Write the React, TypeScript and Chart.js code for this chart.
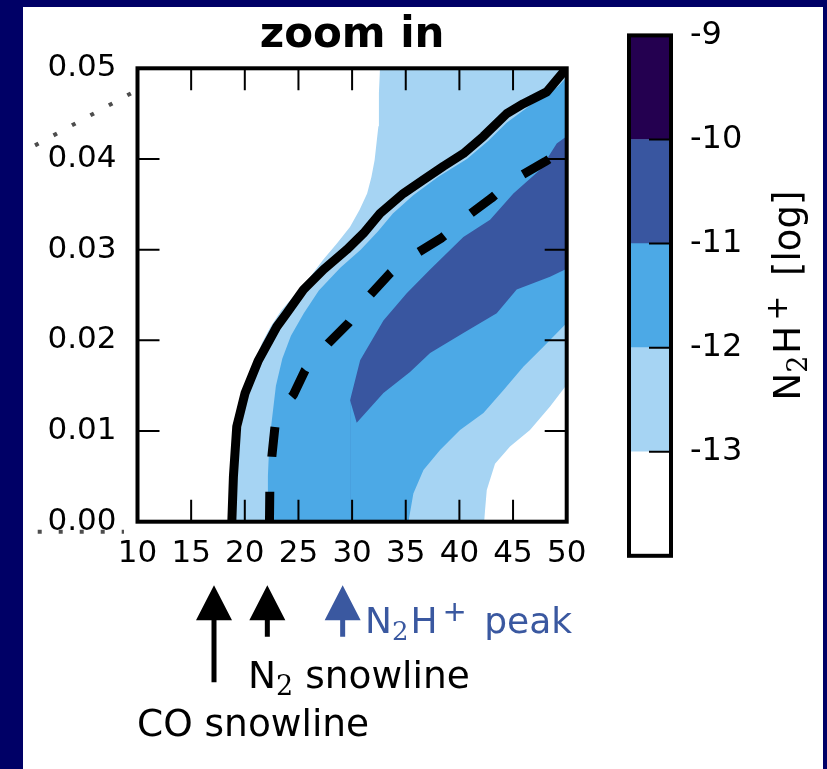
import React, { useEffect, useRef } from 'react';
import { Chart, registerables } from 'chart.js';
Chart.register(...registerables);

const SANS = "'DejaVu Sans', sans-serif";
const SERIF = "'DejaVu Serif', serif";
const NAVY = '#000066';

// ---------- axes ----------
const xTicks = [10, 15, 20, 25, 30, 35, 40, 45, 50];
const yTicks = [0, 0.01, 0.02, 0.03, 0.04, 0.05];
const xRange = [10, 50];
const yRange = [0, 0.05];

// ---------- colour bar ----------
const levelTicks = [-9, -10, -11, -12, -13];
const levelLow = [-14, -13, -12, -11, -10];
const levelHigh = [-13, -12, -11, -10, -9];
const levelColors = ['#ffffff', '#a6d4f3', '#4ca9e6', '#3956a0', '#240050'];

// ---------- contour boundaries ----------
// white -> light blue (upper-left edge)
const lightEdgeX = [19.1, 19.25, 19.6, 20.2, 21.0, 21.6, 22.4, 23.4, 24.8, 26.1, 27.3, 28.6, 29.8, 30.7, 31.4, 31.8, 32.1, 32.45, 32.5, 32.6, 50];
const lightEdgeY = [0, 0.006, 0.01, 0.0142, 0.0178, 0.0197, 0.0215, 0.0233, 0.0252, 0.027, 0.0289, 0.0307, 0.0325, 0.0344, 0.0362, 0.038, 0.0399, 0.0436, 0.0473, 0.05, 0.05];
// light -> medium blue
const mediumEdgeX = [22.1, 22.15, 22.3, 22.6, 22.9, 23.5, 24.3, 25.5, 26.9, 28.9, 30.8, 32.4, 33.8, 35.7, 38.0, 40.7, 42.7, 44.4, 46.7, 49.2, 50];
const mediumEdgeY = [0, 0.005, 0.009, 0.012, 0.015, 0.018, 0.0205, 0.023, 0.0255, 0.028, 0.03, 0.032, 0.034, 0.036, 0.038, 0.04, 0.042, 0.044, 0.046, 0.048, 0.049];
// dark blue region (upper and lower edges)
const darkUpperX = [29.81, 30.75, 32.92, 35.09, 37.27, 40.37, 42.86, 45.03, 47.52, 49.07, 50];
const darkUpperY = [0.0134, 0.0178, 0.0222, 0.0252, 0.0278, 0.0314, 0.0333, 0.0362, 0.0388, 0.0417, 0.0425];
const darkLowerX = [29.81, 30.43, 32.92, 35.4, 37.27, 40.37, 43.48, 45.34, 48.45, 50];
const darkLowerY = [0.0134, 0.0109, 0.0142, 0.0165, 0.0186, 0.0208, 0.023, 0.0256, 0.027, 0.0279];
// medium -> light blue (lower-right)
const lowLightX = [35.25, 35.71, 36.65, 38.2, 40.06, 42.24, 44.1, 45.96, 47.83, 50];
const lowLightY = [0, 0.0031, 0.0057, 0.0079, 0.0101, 0.012, 0.0145, 0.0171, 0.0193, 0.0219];
// light -> white (lower-right corner)
const lowWhiteX = [42.3, 42.55, 43.32, 44.72, 46.58, 48.45, 50];
const lowWhiteY = [0, 0.0035, 0.0064, 0.0083, 0.0101, 0.0127, 0.0151];
// CO snowline (solid) and N2 snowline (dashed)
const solidX = [18.79, 18.94, 19.25, 20.03, 21.27, 22.98, 23.91, 25.47, 27.33, 29.5, 31.06, 32.61, 34.78, 36.65, 38.51, 40.37, 42.24, 44.41, 45.96, 48.14, 49.84, 50.1];
const solidY = [0, 0.005, 0.0105, 0.0142, 0.0178, 0.0215, 0.023, 0.0256, 0.0278, 0.03, 0.0318, 0.034, 0.0362, 0.0377, 0.0392, 0.0406, 0.0425, 0.045, 0.0461, 0.0474, 0.0498, 0.0501];
const dashedX = [22.3, 22.33, 22.52, 22.83, 23.6, 24.53, 25.62, 26.71, 27.8, 29.66, 30.75, 31.68, 33.54, 34.78, 36.02, 38.35, 39.6, 40.84, 43.01, 44.1, 45.34, 47.98, 50];
const dashedY = [0, 0.0035, 0.0072, 0.0107, 0.0127, 0.014, 0.0167, 0.0182, 0.0197, 0.0219, 0.0235, 0.025, 0.0274, 0.0287, 0.0296, 0.0313, 0.0325, 0.0338, 0.0357, 0.0368, 0.0379, 0.0397, 0.0412];

// ---------- zoom connectors (dotted, outside the frame) ----------
const connTopX = [0.45, 9.49];
const connTopY = [0.0415, 0.0473];
const connBotX = [0.7, 8.74];
const connBotY = [-0.0011, -0.0011];

// ---------- annotations below the axis ----------
const arrowX = [17.13, 22.1, 29.12];
const arrowTipY = [-0.007, -0.007, -0.007];
const arrowTailY = [-0.0177, -0.0127, -0.0127];
const arrowColors = ['#000000', '#000000', '#3a58a0'];
type Piece = { t: string; kind?: 'sub' | 'sup'; gap?: number };
const labelTexts: Piece[][] = [
  [{ t: 'CO snowline' }],
  [{ t: 'N' }, { t: '2', kind: 'sub' }, { t: ' snowline' }],
  [{ t: 'N' }, { t: '2', kind: 'sub' }, { t: 'H', gap: 2 }, { t: '+', kind: 'sup', gap: 5 }, { t: ' peak', gap: 6 }],
];
const labelX = [9.95, 20.3, 31.2];
const labelY = [-0.0236, -0.0183, -0.0123];
const labelSizes = [37.5, 37.5, 36];
const labelColors = ['#000000', '#000000', '#3a58a0'];
const titleText = 'zoom in';
const cbarLabel: Piece[] = [{ t: 'N' }, { t: '2', kind: 'sub' }, { t: 'H', gap: 2 }, { t: '+', kind: 'sup', gap: 5 }, { t: ' [log]', gap: 8 }];

const pts = (xs: number[], ys: number[]) => xs.map((x, i) => ({ x, y: ys[i] }));

function drawPieces(ctx: CanvasRenderingContext2D, pieces: Piece[], x: number, y: number, size: number, draw = true) {
  let cx = x;
  for (const p of pieces) {
    cx += p.gap || 0;
    let dy = 0;
    if (p.kind === 'sub') {
      ctx.font = `${Math.round(size * 0.72)}px ${SERIF}`;
      dy = size * 0.2;
    } else if (p.kind === 'sup') {
      ctx.font = `${Math.round(size * 0.8)}px ${SANS}`;
      dy = -size * 0.34;
    } else {
      ctx.font = `${size}px ${SANS}`;
    }
    if (draw) ctx.fillText(p.t, cx, y + dy);
    cx += ctx.measureText(p.t).width;
  }
  return cx - x;
}

const mainDecor = {
  id: 'mainDecor',
  afterDraw(chart: any) {
    const { ctx, chartArea: a, scales } = chart;
    const xs = scales.x;
    const ys = scales.y;
    const TL = 22;
    ctx.save();
    // frame
    ctx.strokeStyle = '#000';
    ctx.lineWidth = 4;
    ctx.strokeRect(a.left, a.top, a.right - a.left, a.bottom - a.top);
    // inward ticks on all four sides
    ctx.lineWidth = 2;
    ctx.beginPath();
    xTicks.forEach((v) => {
      if (v === xRange[0] || v === xRange[1]) return;
      const px = xs.getPixelForValue(v);
      ctx.moveTo(px, a.bottom); ctx.lineTo(px, a.bottom - TL);
      ctx.moveTo(px, a.top); ctx.lineTo(px, a.top + TL);
    });
    yTicks.forEach((v) => {
      if (v === yRange[0] || v === yRange[1]) return;
      const py = ys.getPixelForValue(v);
      ctx.moveTo(a.left, py); ctx.lineTo(a.left + TL, py);
      ctx.moveTo(a.right, py); ctx.lineTo(a.right - TL, py);
    });
    ctx.stroke();
    // dotted zoom connectors
    ctx.strokeStyle = '#4d4d4d';
    ctx.lineWidth = 4;
    ctx.setLineDash([4, 17]);
    [[connTopX, connTopY], [connBotX, connBotY]].forEach(([cx, cy]) => {
      ctx.beginPath();
      ctx.moveTo(xs.getPixelForValue(cx[0]), ys.getPixelForValue(cy[0]));
      ctx.lineTo(xs.getPixelForValue(cx[1]), ys.getPixelForValue(cy[1]));
      ctx.stroke();
    });
    ctx.setLineDash([]);
    // arrows
    const HW = 18, HL = 35, SW = 5;
    arrowX.forEach((v, i) => {
      const px = xs.getPixelForValue(v);
      const tip = ys.getPixelForValue(arrowTipY[i]);
      const tail = ys.getPixelForValue(arrowTailY[i]);
      ctx.fillStyle = arrowColors[i];
      ctx.beginPath();
      ctx.moveTo(px, tip);
      ctx.lineTo(px + HW, tip + HL);
      ctx.lineTo(px + SW / 2, tip + HL);
      ctx.lineTo(px + SW / 2, tail);
      ctx.lineTo(px - SW / 2, tail);
      ctx.lineTo(px - SW / 2, tip + HL);
      ctx.lineTo(px - HW, tip + HL);
      ctx.closePath();
      ctx.fill();
    });
    // labels
    ctx.textAlign = 'left';
    ctx.textBaseline = 'alphabetic';
    labelTexts.forEach((pieces, i) => {
      ctx.fillStyle = labelColors[i];
      drawPieces(ctx, pieces, xs.getPixelForValue(labelX[i]), ys.getPixelForValue(labelY[i]), labelSizes[i]);
    });
    // title
    ctx.fillStyle = '#000';
    ctx.font = `bold 42px ${SANS}`;
    ctx.textAlign = 'center';
    ctx.fillText(titleText, (a.left + a.right) / 2, 40);
    ctx.restore();
  },
};

const cbDecor = {
  id: 'cbDecor',
  afterDraw(chart: any) {
    const { ctx, chartArea: a, scales } = chart;
    const ys = scales.y;
    ctx.save();
    ctx.strokeStyle = '#000';
    ctx.lineWidth = 2;
    ctx.beginPath();
    levelTicks.forEach((v) => {
      if (v === levelHigh[levelHigh.length - 1]) return;
      const py = ys.getPixelForValue(v);
      ctx.moveTo(a.right, py); ctx.lineTo(a.right - 22, py);
    });
    ctx.stroke();
    ctx.lineWidth = 4;
    ctx.strokeRect(a.left, a.top, a.right - a.left, a.bottom - a.top);
    // rotated label
    ctx.fillStyle = '#000';
    ctx.textBaseline = 'alphabetic';
    ctx.textAlign = 'left';
    const size = 37;
    const w = drawPieces(ctx, cbarLabel, 0, 0, size, false);
    ctx.translate(200, (a.top + a.bottom) / 2);
    ctx.rotate(-Math.PI / 2);
    drawPieces(ctx, cbarLabel, -w / 2, 0, size, true);
    ctx.restore();
  },
};

export default function App() {
  const mainRef = useRef<HTMLCanvasElement>(null);
  const cbRef = useRef<HTMLCanvasElement>(null);

  useEffect(() => {
    document.body.style.margin = '0';
    const lineDs = (xs: number[], ys: number[], dash: number[]) => ({
      data: pts(xs, ys),
      borderColor: '#000',
      borderWidth: 9,
      borderDash: dash,
      borderCapStyle: 'butt',
      borderJoinStyle: 'round',
      fill: false,
      pointRadius: 0,
      tension: 0,
      clip: 0,
    });
    const fillDs = (xs: number[], ys: number[], color: string) => ({
      data: pts(xs, ys),
      borderColor: 'rgba(0,0,0,0)',
      borderWidth: 0,
      backgroundColor: color,
      fill: 'start',
      pointRadius: 0,
      tension: 0,
    });
    const main = new Chart(mainRef.current!, {
      type: 'line',
      data: {
        datasets: [
          lineDs(solidX, solidY, []),
          lineDs(dashedX, dashedY, [30, 35]),
          fillDs(lowWhiteX, lowWhiteY, levelColors[0]),
          fillDs(lowLightX, lowLightY, levelColors[1]),
          fillDs(darkLowerX, darkLowerY, levelColors[2]),
          fillDs(darkUpperX, darkUpperY, levelColors[3]),
          fillDs(mediumEdgeX, mediumEdgeY, levelColors[2]),
          fillDs(lightEdgeX, lightEdgeY, levelColors[1]),
        ] as any,
      },
      options: {
        animation: false,
        responsive: false,
        events: [],
        layout: { autoPadding: false, padding: { left: 0, top: 61.3, right: 256.3, bottom: 0 } },
        plugins: { legend: { display: false }, tooltip: { enabled: false }, title: { display: false } },
        scales: {
          x: {
            type: 'linear',
            min: xRange[0],
            max: xRange[1],
            afterBuildTicks: (s: any) => { s.ticks = xTicks.map((v) => ({ value: v })); },
            grid: { display: false, drawTicks: false },
            border: { display: false },
            ticks: { font: { family: SANS, size: 31 }, color: '#000', padding: 14, maxRotation: 0, autoSkip: false, callback: (v: any) => String(v) },
            afterFit: (s: any) => { s.height = 762 - 514.7; s.paddingLeft = 0; s.paddingRight = 0; },
          },
          y: {
            type: 'linear',
            min: yRange[0],
            max: yRange[1],
            afterBuildTicks: (s: any) => { s.ticks = yTicks.map((v) => ({ value: v })); },
            grid: { display: false, drawTicks: false },
            border: { display: false },
            ticks: { font: { family: SANS, size: 31 }, color: '#000', padding: 21, callback: (v: any) => Number(v).toFixed(2) },
            afterFit: (s: any) => { s.width = 114.5; s.paddingTop = 0; s.paddingBottom = 0; },
          },
        },
      } as any,
      plugins: [mainDecor],
    });

    const cb = new Chart(cbRef.current!, {
      type: 'bar',
      data: {
        labels: [''],
        datasets: levelLow.map((lo, i) => ({
          data: [[lo, levelHigh[i]]],
          backgroundColor: levelColors[i],
          borderWidth: 0,
          barPercentage: 1,
          categoryPercentage: 1,
          grouped: false,
        })) as any,
      },
      options: {
        animation: false,
        responsive: false,
        events: [],
        layout: { autoPadding: false, padding: { left: 29, top: 28.4, right: 0, bottom: 762 - 548.8 } },
        plugins: { legend: { display: false }, tooltip: { enabled: false } },
        scales: {
          x: { display: false },
          y: {
            position: 'right',
            min: levelLow[0],
            max: levelHigh[levelHigh.length - 1],
            afterBuildTicks: (s: any) => { s.ticks = [...levelTicks].sort((p, q) => p - q).map((v) => ({ value: v })); },
            grid: { display: false, drawTicks: false },
            border: { display: false },
            ticks: { font: { family: SANS, size: 32 }, color: '#000', padding: 19, callback: (v: any) => String(v) },
            afterFit: (s: any) => { s.width = 223 - 71; s.paddingTop = 0; s.paddingBottom = 0; },
          },
        },
      } as any,
      plugins: [cbDecor],
    });

    return () => { main.destroy(); cb.destroy(); };
  }, []);

  return (
    <div style={{ position: 'relative', width: 827, height: 769, background: NAVY, overflow: 'hidden' }}>
      <div style={{ position: 'absolute', left: 23, top: 7, width: 800, height: 762, background: '#fff' }} />
      <canvas ref={mainRef} width={800} height={762} style={{ position: 'absolute', left: 23, top: 7, width: 800, height: 762 }} />
      <canvas ref={cbRef} width={223} height={762} style={{ position: 'absolute', left: 600, top: 7, width: 223, height: 762 }} />
    </div>
  );
}
